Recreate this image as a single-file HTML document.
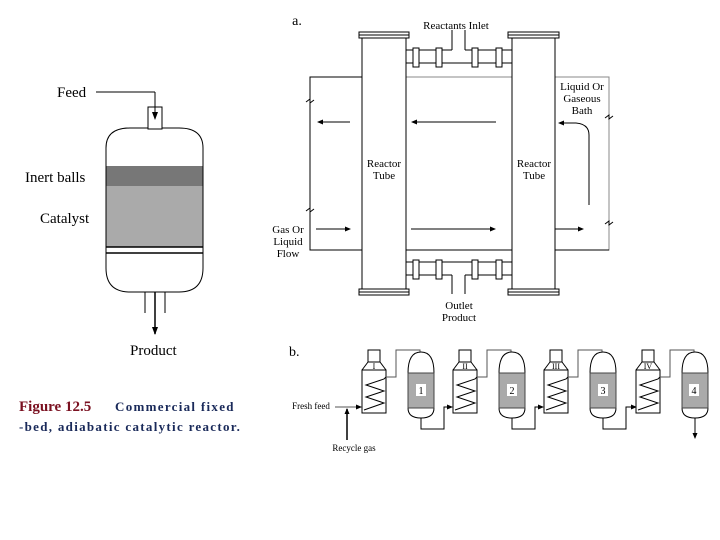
<!DOCTYPE html>
<html><head><meta charset="utf-8"><style>
body{margin:0;background:#fff;}
svg{display:block;font-family:"Liberation Serif",serif;}
</style></head><body>
<svg width="720" height="540" viewBox="0 0 720 540" xmlns="http://www.w3.org/2000/svg">
<defs>
<marker id="ar" markerWidth="8" markerHeight="8" refX="7" refY="4" orient="auto" markerUnits="userSpaceOnUse"><path d="M0,1 L8,4 L0,7 Z" fill="#000"/></marker>
<marker id="as" markerWidth="6" markerHeight="6" refX="5" refY="3" orient="auto" markerUnits="userSpaceOnUse"><path d="M0,0.5 L6,3 L0,5.5 Z" fill="#000"/></marker>
</defs>
<rect width="720" height="540" fill="#fff"/>

<!-- Left reactor -->
<g stroke="#000" fill="none" stroke-width="1">
<rect x="106" y="166" width="97" height="20" fill="#777" stroke="none"/>
<rect x="106" y="186" width="97" height="61" fill="#aaa" stroke="none"/>
<path d="M106,166 V148 Q106,128 130,128 H179 Q203,128 203,148 V268 Q203,292 179,292 H130 Q106,292 106,268 Z"/>
<rect x="148" y="107" width="14" height="22" fill="#fff"/>
<line x1="106" y1="247" x2="203" y2="247" stroke-width="1.5"/>
<line x1="106" y1="253" x2="203" y2="253" stroke-width="1.5"/>
<line x1="96" y1="92" x2="155" y2="92"/>
<line x1="155" y1="92" x2="155" y2="119" marker-end="url(#ar)"/>
<line x1="145" y1="292" x2="145" y2="313"/>
<line x1="165" y1="292" x2="165" y2="313"/>
<line x1="155" y1="292" x2="155" y2="334" stroke-width="1.5" marker-end="url(#ar)"/>
</g>
<g font-size="15" fill="#000">
<text x="57" y="97">Feed</text>
<text x="25" y="182">Inert balls</text>
<text x="40" y="223">Catalyst</text>
<text x="130" y="355">Product</text>
</g>

<!-- Figure a -->
<g stroke="#000" fill="none" stroke-width="1">
<polyline points="362,77 310,77 310,250 362,250"/>
<line x1="406" y1="77" x2="512" y2="77" stroke="#888"/>
<line x1="406" y1="250" x2="512" y2="250"/>
<polyline points="555,77 609,77 609,250 555,250" stroke="#888"/>
<polyline points="555,250 609,250" stroke="#000"/>
<rect x="362" y="38" width="44" height="251" fill="#fff"/>
<rect x="512" y="38" width="43" height="251" fill="#fff"/>
<rect x="359" y="32" width="50" height="3"/><rect x="359" y="35" width="50" height="3"/>
<rect x="508" y="32" width="51" height="3"/><rect x="508" y="35" width="51" height="3"/>
<rect x="359" y="289" width="50" height="3"/><rect x="359" y="292" width="50" height="3"/>
<rect x="508" y="289" width="51" height="3"/><rect x="508" y="292" width="51" height="3"/>
<line x1="406" y1="50" x2="452" y2="50"/><line x1="465" y1="50" x2="512" y2="50"/>
<line x1="406" y1="63" x2="512" y2="63"/>
<polyline points="452,50 452,30"/><polyline points="465,50 465,30"/>
<rect x="413" y="48" width="6" height="19" fill="#fff"/><rect x="436" y="48" width="6" height="19" fill="#fff"/>
<rect x="472" y="48" width="6" height="19" fill="#fff"/><rect x="496" y="48" width="6" height="19" fill="#fff"/>
<line x1="406" y1="262" x2="512" y2="262"/>
<line x1="406" y1="275" x2="452" y2="275"/><line x1="465" y1="275" x2="512" y2="275"/>
<polyline points="452,275 452,294"/><polyline points="465,275 465,294"/>
<rect x="413" y="260" width="6" height="19" fill="#fff"/><rect x="436" y="260" width="6" height="19" fill="#fff"/>
<rect x="472" y="260" width="6" height="19" fill="#fff"/><rect x="496" y="260" width="6" height="19" fill="#fff"/>
<path d="M306,102 l4,-3 l0,4 l4,-3" /><path d="M306,211 l4,-3 l0,4 l4,-3"/>
<path d="M605,118 l4,-3 l0,4 l4,-3"/><path d="M605,224 l4,-3 l0,4 l4,-3"/>
<line x1="350" y1="122" x2="318" y2="122" marker-end="url(#as)"/>
<line x1="496" y1="122" x2="412" y2="122" marker-end="url(#as)"/>
<line x1="316" y1="229" x2="350" y2="229" marker-end="url(#as)"/>
<line x1="411" y1="229" x2="495" y2="229" marker-end="url(#as)"/>
<line x1="555" y1="229" x2="583" y2="229" marker-end="url(#as)"/>
<path d="M589,205 V135 Q589,124 576,123 L559,123" marker-end="url(#as)"/>
</g>
<g font-size="11" fill="#000" text-anchor="middle">
<text x="297" y="25" font-size="14">a.</text>
<text x="456" y="29">Reactants Inlet</text>
<text x="582" y="90">Liquid Or</text><text x="582" y="102">Gaseous</text><text x="582" y="114">Bath</text>
<text x="384" y="167">Reactor</text><text x="384" y="179">Tube</text>
<text x="534" y="167">Reactor</text><text x="534" y="179">Tube</text>
<text x="288" y="233">Gas Or</text><text x="288" y="245">Liquid</text><text x="288" y="257">Flow</text>
<text x="459" y="309">Outlet</text><text x="459" y="321">Product</text>
</g>

<!-- Figure b -->
<text x="289" y="356" font-size="14">b.</text>
<g stroke="#000" fill="none" stroke-width="1" font-size="9">
<g transform="translate(0,0)">
<rect x="362" y="370" width="24" height="43" fill="#fff"/>
<rect x="368" y="350" width="12" height="12" fill="#fff"/>
<polyline points="368,362 362,370"/><polyline points="380,362 386,370"/>
<polyline points="364,410 384,403 366,397 384,391 366,385 384,379 386,377"/>
<polyline points="386,377 396,377 396,350 420,350 420,360" marker-end="url(#as)" stroke="#555"/>
<path d="M408,373 Q408,352 421,352 Q434,352 434,373 V408 Q434,418 421,418 Q408,418 408,408 Z" fill="#fff"/>
<rect x="408" y="373" width="26" height="35" fill="#aaa" stroke="#444"/>
<polyline points="421,418 421,429 444,429 444,407 452,407" marker-end="url(#as)"/>
</g>
<g transform="translate(91,0)">
<rect x="362" y="370" width="24" height="43" fill="#fff"/>
<rect x="368" y="350" width="12" height="12" fill="#fff"/>
<polyline points="368,362 362,370"/><polyline points="380,362 386,370"/>
<polyline points="364,410 384,403 366,397 384,391 366,385 384,379 386,377"/>
<polyline points="386,377 396,377 396,350 420,350 420,360" marker-end="url(#as)" stroke="#555"/>
<path d="M408,373 Q408,352 421,352 Q434,352 434,373 V408 Q434,418 421,418 Q408,418 408,408 Z" fill="#fff"/>
<rect x="408" y="373" width="26" height="35" fill="#aaa" stroke="#444"/>
<polyline points="421,418 421,429 444,429 444,407 452,407" marker-end="url(#as)"/>
</g>
<g transform="translate(182,0)">
<rect x="362" y="370" width="24" height="43" fill="#fff"/>
<rect x="368" y="350" width="12" height="12" fill="#fff"/>
<polyline points="368,362 362,370"/><polyline points="380,362 386,370"/>
<polyline points="364,410 384,403 366,397 384,391 366,385 384,379 386,377"/>
<polyline points="386,377 396,377 396,350 420,350 420,360" marker-end="url(#as)" stroke="#555"/>
<path d="M408,373 Q408,352 421,352 Q434,352 434,373 V408 Q434,418 421,418 Q408,418 408,408 Z" fill="#fff"/>
<rect x="408" y="373" width="26" height="35" fill="#aaa" stroke="#444"/>
<polyline points="421,418 421,429 444,429 444,407 454,407" marker-end="url(#as)"/>
</g>
<g transform="translate(274,0)">
<rect x="362" y="370" width="24" height="43" fill="#fff"/>
<rect x="368" y="350" width="12" height="12" fill="#fff"/>
<polyline points="368,362 362,370"/><polyline points="380,362 386,370"/>
<polyline points="364,410 384,403 366,397 384,391 366,385 384,379 386,377"/>
<polyline points="386,377 396,377 396,350 420,350 420,360" marker-end="url(#as)" stroke="#555"/>
<path d="M408,373 Q408,352 421,352 Q434,352 434,373 V408 Q434,418 421,418 Q408,418 408,408 Z" fill="#fff"/>
<rect x="408" y="373" width="26" height="35" fill="#aaa" stroke="#444"/>
<line x1="421" y1="418" x2="421" y2="438" marker-end="url(#as)"/>
</g>
<line x1="335" y1="407" x2="361" y2="407" stroke="#555" marker-end="url(#as)"/>
<line x1="347" y1="440" x2="347" y2="409" stroke-width="1.5" marker-end="url(#as)"/>
</g>
<g font-size="10" fill="#000" text-anchor="middle">
<rect x="416" y="384" width="10" height="12" fill="#fff"/><text x="421" y="394">1</text>
<rect x="507" y="384" width="10" height="12" fill="#fff"/><text x="512" y="394">2</text>
<rect x="598" y="384" width="10" height="12" fill="#fff"/><text x="603" y="394">3</text>
<rect x="689" y="384" width="10" height="12" fill="#fff"/><text x="694" y="394">4</text>
<text x="374" y="369" font-size="8">I</text>
<text x="465" y="369" font-size="8">II</text>
<text x="556" y="369" font-size="8">III</text>
<text x="648" y="369" font-size="8">IV</text>
<text x="311" y="409" font-size="9">Fresh feed</text>
<text x="354" y="451" font-size="9">Recycle gas</text>
</g>

<!-- caption -->
<g font-family="Liberation Serif, serif" font-weight="bold">
<text x="19" y="411" font-size="15" fill="#7a1020">Figure 12.5</text>
<text x="115" y="411" font-size="13" fill="#1a2a5a" letter-spacing="1.3">Commercial fixed</text>
<text x="19" y="431" font-size="13" fill="#1a2a5a" letter-spacing="1.3">-bed, adiabatic catalytic reactor.</text>
</g>
</svg>
</body></html>
